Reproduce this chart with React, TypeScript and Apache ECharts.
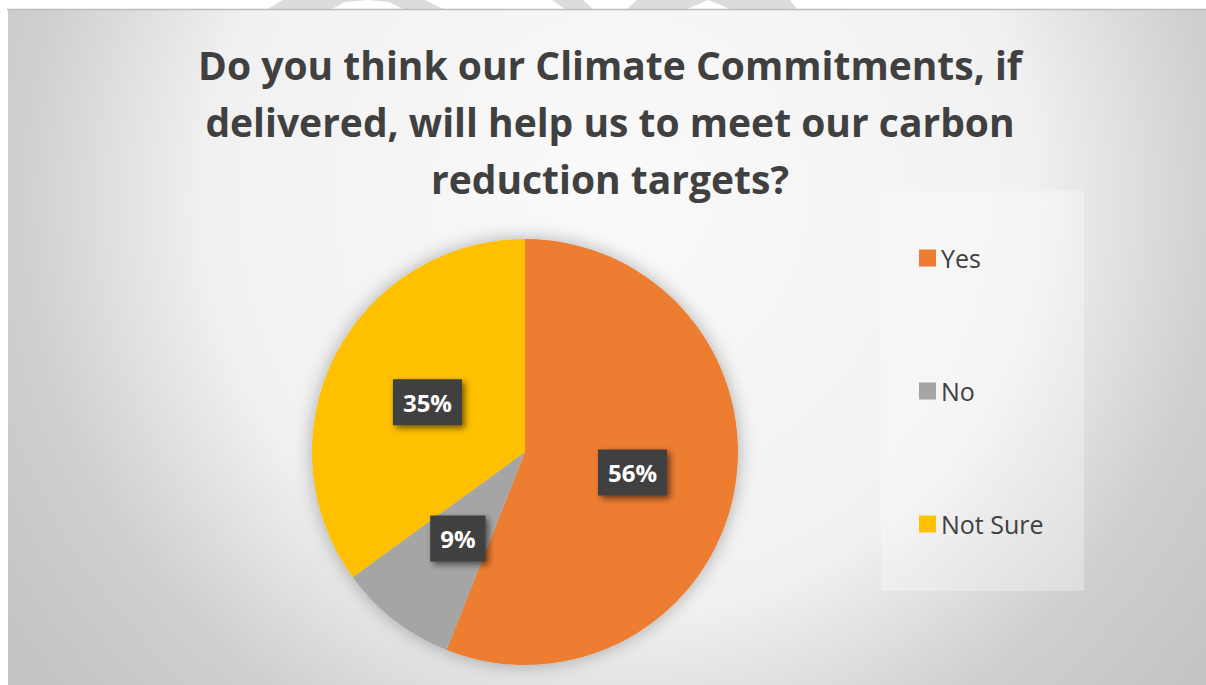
import React, { useEffect, useRef } from "react";
import * as echarts from "echarts";

const categories = ["Yes", "No", "Not Sure"];
const values = [56, 9, 35];
const colors = ["#ED7D31", "#A5A5A5", "#FFC000"];
const titleLines = [
  "Do you think our Climate Commitments, if",
  "delivered, will help us to meet our carbon",
  "reduction targets?",
];

const FONT = "'Open Sans', 'Noto Sans', sans-serif";
const PIE_CENTER = [525, 452];
const PIE_R = 213;

export default function App() {
  const ref = useRef<HTMLDivElement>(null);
  useEffect(() => {
    if (!ref.current) return;
    const chart = echarts.init(ref.current, null, { renderer: "svg" });
    const bg = new echarts.graphic.RadialGradient(620, 200, 750, [
      { offset: 0, color: "#fafafa" },
      { offset: 0.55, color: "#f1f1f1" },
      { offset: 0.8, color: "#cfcfcf" },
      { offset: 1, color: "#c4c4c4" },
    ], true);
    chart.setOption({
      animation: false,
      graphic: {
        elements: [
          { type: "polygon", z: -5, shape: { points: [[268, 9], [283, 0], [425, 0], [443, 9]] }, style: { fill: "#dcdcdc" } },
          { type: "polygon", z: -4, shape: { points: [[332, 9], [345, 2], [367, 0], [389, 2], [403, 9]] }, style: { fill: "#ffffff" } },
          { type: "polygon", z: -5, shape: { points: [[552, 0], [583, 0], [593, 9], [565, 9]] }, style: { fill: "#dcdcdc" } },
          { type: "polygon", z: -5, shape: { points: [[637, 0], [790, 0], [797, 9], [627, 9]] }, style: { fill: "#dcdcdc" } },
          { type: "polygon", z: -4, shape: { points: [[687, 9], [708, 0], [730, 9]] }, style: { fill: "#ffffff" } },
          { type: "rect", z: -3, shape: { x: 8, y: 9, width: 1198, height: 676 }, style: { fill: bg } },
          { type: "line", z: -2, shape: { x1: 7, y1: 9.5, x2: 1206, y2: 9.5 }, style: { stroke: "#bcbcbc", lineWidth: 1.5 } },
          { type: "rect", z: -2, shape: { x: 881, y: 191, width: 203, height: 400 }, style: { fill: "rgba(255,255,255,0.3)" } },
          {
            type: "text",
            z: 10,
            x: 610,
            y: 36,
            style: {
              text: titleLines.join("\n"),
              fontFamily: FONT,
              fontWeight: "bold",
              fontSize: 39,
              lineHeight: 57,
              fill: "#404040",
              align: "center",
              verticalAlign: "top",
            },
          },
        ],
      },
      legend: {
        orient: "vertical",
        left: 914,
        top: 238,
        itemWidth: 17,
        itemHeight: 17,
        itemGap: 103,
        icon: "rect",
        data: categories,
        textStyle: { fontFamily: FONT, fontSize: 25, color: "#404040", lineHeight: 30 },
      },
      series: [
        {
          type: "pie",
          z: 1,
          silent: true,
          center: PIE_CENTER,
          radius: PIE_R,
          label: { show: false },
          labelLine: { show: false },
          data: [{ value: 1, name: "", itemStyle: { color: "#d0d0d0", shadowBlur: 18, shadowColor: "rgba(0,0,0,0.3)" } }],
        },
        {
          type: "pie",
          z: 2,
          center: PIE_CENTER,
          radius: PIE_R,
          startAngle: 90,
          clockwise: true,
          data: categories.map((c, i) => ({ name: c, value: values[i], itemStyle: { color: colors[i] } })),
          label: {
            show: true,
            position: "inside",
            formatter: (p: any) => p.value + "%",
            color: "#ffffff",
            fontFamily: FONT,
            fontWeight: "bold",
            fontSize: 24,
            lineHeight: 25,
            backgroundColor: "#3f3f3f",
            padding: [11, 10, 10, 10],
            shadowBlur: 6,
            shadowOffsetX: 3,
            shadowOffsetY: 3,
            shadowColor: "rgba(0,0,0,0.55)",
          },
          labelLine: { show: false },
          emphasis: { disabled: true },
        },
      ],
    });
    return () => chart.dispose();
  }, []);
  return <div ref={ref} style={{ position: "absolute", left: 0, top: 0, width: 1206, height: 685 }} />;
}
